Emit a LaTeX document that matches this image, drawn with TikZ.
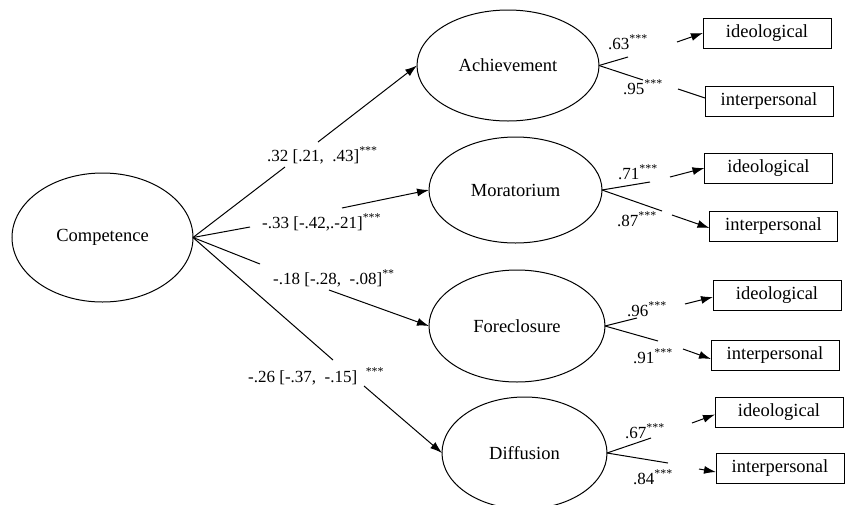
\documentclass[tikz,border=0pt]{standalone}
\usepackage{fontspec}
\setmainfont{Liberation Serif}
\usetikzlibrary{shapes.geometric,arrows.meta}
\begin{document}
\begin{tikzpicture}[x=1pt,y=-1pt,
  lat/.style={ellipse,draw,line width=1pt,inner sep=0pt,outer sep=0pt,font=\fontsize{18.5}{20}\selectfont},
  ind/.style={rectangle,draw,line width=1pt,minimum width=128pt,minimum height=30pt,inner sep=0pt,outer sep=0pt,font=\fontsize{18.5}{20}\selectfont},
  lbl/.style={anchor=base west,inner sep=0pt,font=\fontsize{17}{19}\selectfont},
  ln/.style={line width=1pt},
  arr/.style={line width=1pt,-{Latex[length=12pt,width=8pt]}}]
\useasboundingbox (0,0) rectangle (846,504);
% latent variables
\node[lat,minimum width=181pt,minimum height=129pt] (comp) at (102.5,237.5) {Competence};
\node[lat,minimum width=182pt,minimum height=111pt] (ach) at (508,65.5) {Achievement};
\node[lat,minimum width=173pt,minimum height=106pt] (mor) at (515.5,190) {Moratorium};
\node[lat,minimum width=176pt,minimum height=112pt] (fore) at (517,326) {Foreclosure};
\node[lat,minimum width=165pt,minimum height=112pt] (dif) at (524.5,453) {Diffusion};
% indicators
\node[ind] (aD) at (767,33) {ideological};
\node[ind] (aI) at (769,101) {interpersonal};
\node[ind] (mD) at (768.5,168) {ideological};
\node[ind] (mI) at (773.5,226) {interpersonal};
\node[ind] (fD) at (777,295) {ideological};
\node[ind] (fI) at (775,355) {interpersonal};
\node[ind] (dD) at (779,412.5) {ideological};
\node[ind] (dI) at (780,468) {interpersonal};
% structural path labels
\node[lbl] (l1) at (267,161) {.32 [.21,\ \ .43]\textsuperscript{***}};
\node[lbl] (l2) at (262,228) {-.33 [-.42,.-21]\textsuperscript{***}};
\node[lbl] (l3) at (273,284) {-.18 [-.28,\ \ -.08]\textsuperscript{**}};
\node[lbl] (l4) at (248,382) {-.26 [-.37,\ \ -.15]\ \ \textsuperscript{***}};
% loading labels
\node[lbl] (ka1) at (608,49) {.63\textsuperscript{***}};
\node[lbl] (ka2) at (623,94) {.95\textsuperscript{***}};
\node[lbl] (km1) at (618,179) {.71\textsuperscript{***}};
\node[lbl] (km2) at (617,226) {.87\textsuperscript{***}};
\node[lbl] (kf1) at (627,316) {.96\textsuperscript{***}};
\node[lbl] (kf2) at (633,363) {.91\textsuperscript{***}};
\node[lbl] (kd1) at (625,438) {.67\textsuperscript{***}};
\node[lbl] (kd2) at (633,484) {.84\textsuperscript{***}};
% structural paths (broken around labels)
\coordinate (s1a) at (285,167); \coordinate (s1b) at (318,142);
\coordinate (s2a) at (250,227); \coordinate (s2b) at (342,208);
\coordinate (s3a) at (260,264); \coordinate (s3b) at (329,290);
\coordinate (s4a) at (333,360); \coordinate (s4b) at (364,386);
\draw[ln] (comp.east) -- (s1a); \draw[arr] (s1b) -- (ach.west);
\draw[ln] (comp.east) -- (s2a); \draw[arr] (s2b) -- (mor.west);
\draw[ln] (comp.east) -- (s3a); \draw[arr] (s3b) -- (fore.west);
\draw[ln] (comp.east) -- (s4a); \draw[arr] (s4b) -- (dif.west);
% loadings
\coordinate (a1e) at (628,57); \coordinate (a1s) at (677,42);
\coordinate (a2e) at (643,80); \coordinate (a2s) at (678,89);
\draw[ln] (ach.east) -- (a1e); \draw[arr] (a1s) -- (aD.west);
\draw[ln] (ach.east) -- (a2e); \draw[ln] (a2s) -- ([yshift=3pt]aI.west);
\coordinate (m1e) at (650,182); \coordinate (m1s) at (670,177);
\coordinate (m2e) at (662,211); \coordinate (m2s) at (672,215);
\draw[ln] (mor.east) -- (m1e); \draw[arr] (m1s) -- (mD.west);
\draw[ln] (mor.east) -- (m2e); \draw[arr] (m2s) -- ([yshift=-2pt]mI.west);
\coordinate (f1e) at (637,318); \coordinate (f1s) at (685,304);
\coordinate (f2e) at (658,341); \coordinate (f2s) at (683,349);
\draw[ln] (fore.east) -- (f1e); \draw[arr] (f1s) -- ([yshift=-2pt]fD.west);
\draw[ln] (fore.east) -- (f2e); \draw[arr] (f2s) -- ([yshift=-4pt]fI.west);
\coordinate (d1e) at (651,438); \coordinate (d1s) at (692,423);
\coordinate (d2e) at (668,463); \coordinate (d2s) at (699,469);
\draw[ln] (dif.east) -- (d1e); \draw[arr] (d1s) -- ([yshift=-2pt]dD.west);
\draw[ln] (dif.east) -- (d2e); \draw[arr] (d2s) -- ([yshift=-4pt]dI.west);
\end{tikzpicture}
\end{document}
